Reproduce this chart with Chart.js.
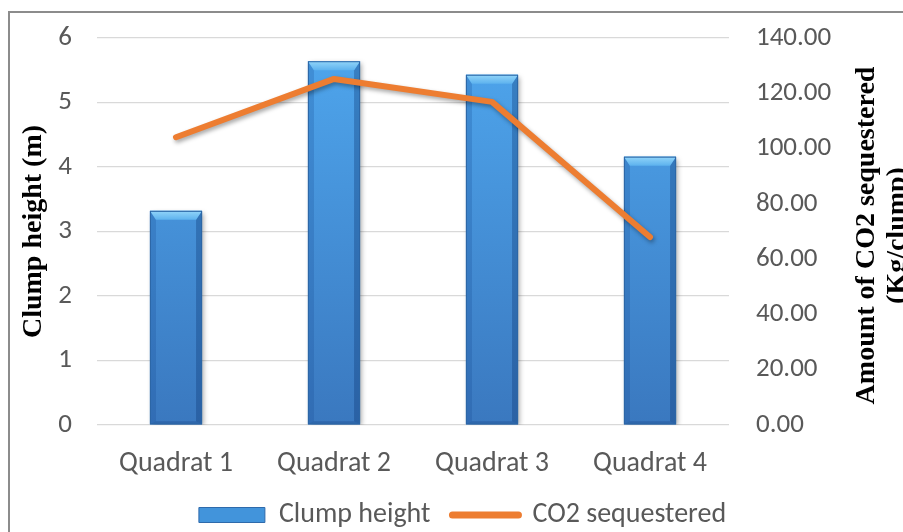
<!DOCTYPE html>
<html>
<head>
<meta charset="utf-8">
<script src="https://cdn.jsdelivr.net/npm/chart.js@4/dist/chart.umd.min.js"></script>
<style>
  html, body { margin: 0; padding: 0; background: #fff; }
  #wrap { width: 903px; height: 532px; position: relative; }
</style>
</head>
<body>
<div id="wrap"><canvas id="c" width="903" height="532"></canvas></div>
<script>
// ---- data ----
const categories = ['Quadrat 1', 'Quadrat 2', 'Quadrat 3', 'Quadrat 4'];
const clumpHeight = [3.32, 5.64, 5.43, 4.16];
const co2Sequestered = [104.1, 125.2, 116.9, 68.0];
const seriesNames = ['Clump height', 'CO2 sequestered'];
const leftAxisTitle = 'Clump height (m)';
const rightAxisTitle = ['Amount of CO2 sequestered', '(Kg/clump)'];
const leftTicks = [0, 1, 2, 3, 4, 5, 6];
const rightTicks = [0, 20, 40, 60, 80, 100, 120, 140];

const FONT_FAMILY = 'Carlito, Lato, "Open Sans", sans-serif';
const TICK_FONT = { family: FONT_FAMILY, size: 27 };
const CAT_FONT = { family: FONT_FAMILY, size: 28 };
const TICK_COLOR = '#595959';
const ORANGE = '#ED7D31';

// frame + white bg
const framePlugin = {
  id: 'frame',
  beforeDraw(chart) {
    const ctx = chart.ctx;
    ctx.save();
    ctx.fillStyle = '#ffffff';
    ctx.fillRect(0, 0, chart.width, chart.height);
    ctx.strokeStyle = '#8c8c8c';
    ctx.lineWidth = 2;
    ctx.beginPath();
    ctx.moveTo(9, chart.height);
    ctx.lineTo(9, 12);
    ctx.lineTo(chart.width, 12);
    ctx.stroke();
    ctx.restore();
  }
};

// shadows + bevel for bars
const stylePlugin = {
  id: 'style3d',
  beforeDatasetDraw(chart, args) {
    const ctx = chart.ctx;
    ctx.save();
    if (args.meta.type === 'bar') {
      ctx.shadowColor = 'rgba(0,0,0,0.35)';
      ctx.shadowBlur = 5;
      ctx.shadowOffsetX = 2;
      ctx.shadowOffsetY = 2;
    } else {
      ctx.shadowColor = 'rgba(0,0,0,0.35)';
      ctx.shadowBlur = 4;
      ctx.shadowOffsetX = 1.5;
      ctx.shadowOffsetY = 2.5;
    }
  },
  afterDatasetDraw(chart, args) {
    const ctx = chart.ctx;
    ctx.restore();
    if (args.meta.type !== 'bar') return;
    const area = chart.chartArea;
    args.meta.data.forEach(el => {
      const p = el.getProps(['x', 'y', 'base', 'width'], true);
      const l = p.x - p.width / 2, r = p.x + p.width / 2, t = p.y, b = p.base;
      const bv = Math.min(9, (b - t) / 3);
      const sv = 6;
      ctx.save();
      const g = ctx.createLinearGradient(0, area.top, 0, area.bottom);
      g.addColorStop(0, '#4FA7EE');
      g.addColorStop(1, '#3A78BF');
      ctx.fillStyle = g;
      ctx.fillRect(l, t, r - l, b - t);
      ctx.fillStyle = 'rgba(20,70,140,0.22)';
      ctx.beginPath();
      ctx.moveTo(l, t); ctx.lineTo(l + sv, t + bv); ctx.lineTo(l + sv, b - 3); ctx.lineTo(l, b);
      ctx.closePath(); ctx.fill();
      ctx.fillStyle = 'rgba(10,50,110,0.32)';
      ctx.beginPath();
      ctx.moveTo(r, t); ctx.lineTo(r - sv, t + bv); ctx.lineTo(r - sv, b - 3); ctx.lineTo(r, b);
      ctx.closePath(); ctx.fill();
      ctx.fillStyle = 'rgba(10,50,110,0.25)';
      ctx.beginPath();
      ctx.moveTo(l, b); ctx.lineTo(l + sv, b - 3); ctx.lineTo(r - sv, b - 3); ctx.lineTo(r, b);
      ctx.closePath(); ctx.fill();
      const tg = ctx.createLinearGradient(0, t, 0, t + bv);
      tg.addColorStop(0, '#92D5F9');
      tg.addColorStop(1, '#5DB2EE');
      ctx.fillStyle = tg;
      ctx.beginPath();
      ctx.moveTo(l, t); ctx.lineTo(r, t); ctx.lineTo(r - sv, t + bv); ctx.lineTo(l + sv, t + bv);
      ctx.closePath(); ctx.fill();
      ctx.strokeStyle = '#2C66A6';
      ctx.lineWidth = 1;
      ctx.strokeRect(l + 0.5, t + 0.5, r - l - 1, b - t - 1);
      ctx.restore();
    });
  }
};

// right axis title (reads bottom-to-top) + legend placement
const rightTitlePlugin = {
  id: 'rightTitle',
  afterLayout(chart) {
    const lg = chart.legend;
    if (!lg) return;
    const dx = 11, dy = -14;
    lg.left += dx; lg.right += dx;
    lg.top += dy;
    lg.bottom = chart.height;
    lg.height = lg.bottom - lg.top;
  },
  afterDraw(chart) {
    const ctx = chart.ctx;
    const s = chart.scales.y1;
    const cy = (chart.chartArea.top + chart.chartArea.bottom) / 2 + 4;
    ctx.save();
    ctx.translate(s.left + 138, cy);
    ctx.rotate(-Math.PI / 2);
    ctx.font = 'bold 28px "Liberation Serif", "Times New Roman", serif';
    ctx.fillStyle = '#000';
    ctx.textAlign = 'center';
    ctx.textBaseline = 'middle';
    ctx.fillText(rightAxisTitle[0], 0, 0);
    ctx.fillText(rightAxisTitle[1], 0, 31);
    ctx.restore();
  }
};

new Chart(document.getElementById('c'), {
  type: 'bar',
  data: {
    labels: categories,
    datasets: [
      {
        type: 'bar',
        label: seriesNames[0],
        data: clumpHeight,
        yAxisID: 'y',
        backgroundColor: '#4599DF',
        borderWidth: 0,
        categoryPercentage: 1,
        barPercentage: 0.33,
        order: 1
      },
      {
        type: 'line',
        label: seriesNames[1],
        data: co2Sequestered,
        yAxisID: 'y1',
        borderColor: ORANGE,
        backgroundColor: ORANGE,
        borderWidth: 6,
        pointRadius: 0,
        tension: 0,
        borderCapStyle: 'round',
        borderJoinStyle: 'round',
        order: 0
      }
    ]
  },
  options: {
    responsive: false,
    animation: false,
    devicePixelRatio: 1,
    layout: { padding: { left: 0, right: 0, top: 38, bottom: 0 } },
    plugins: {
      tooltip: { enabled: false },
      legend: {
        position: 'bottom',
        maxHeight: 39,
        labels: {
          usePointStyle: true,
          pointStyleWidth: 66,
          boxHeight: 15,
          padding: 22,
          color: TICK_COLOR,
          font: CAT_FONT,
          generateLabels() {
            return [
              { text: seriesNames[0], fillStyle: '#4294DB', strokeStyle: '#2E6AAB', lineWidth: 1,
                pointStyle: 'rect', datasetIndex: 0, fontColor: TICK_COLOR },
              { text: seriesNames[1], fillStyle: ORANGE, strokeStyle: ORANGE, lineWidth: 7,
                lineCap: 'round', pointStyle: 'line', datasetIndex: 1, fontColor: TICK_COLOR }
            ];
          }
        }
      }
    },
    scales: {
      x: {
        grid: { display: false, drawTicks: false },
        border: { display: false },
        ticks: { color: TICK_COLOR, font: CAT_FONT, padding: 22, maxRotation: 0 },
        afterFit(scale) { scale.height = 68; }
      },
      y: {
        position: 'left',
        min: leftTicks[0],
        max: leftTicks[leftTicks.length - 1],
        afterBuildTicks(scale) { scale.ticks = leftTicks.map(v => ({ value: v })); },
        grid: { color: '#d9d9d9', lineWidth: 1.3, drawTicks: false },
        border: { display: false },
        ticks: { color: TICK_COLOR, font: TICK_FONT, padding: 25 },
        title: {
          display: true,
          text: leftAxisTitle,
          color: '#000',
          font: { family: '"Liberation Serif", "Times New Roman", serif', size: 28, weight: 'bold' },
          padding: { top: 17, bottom: 0 }
        },
        afterFit(scale) { scale.width = 97; scale.paddingTop = 0; scale.paddingBottom = 0; }
      },
      y1: {
        position: 'right',
        min: rightTicks[0],
        max: rightTicks[rightTicks.length - 1],
        afterBuildTicks(scale) { scale.ticks = rightTicks.map(v => ({ value: v })); },
        grid: { display: false, drawTicks: false },
        border: { display: false },
        ticks: { color: TICK_COLOR, font: TICK_FONT, padding: 27, callback: v => Number(v).toFixed(2) },
        afterFit(scale) { scale.width = 174; scale.paddingTop = 0; scale.paddingBottom = 0; }
      }
    }
  },
  plugins: [framePlugin, stylePlugin, rightTitlePlugin]
});
</script>
</body>
</html>
